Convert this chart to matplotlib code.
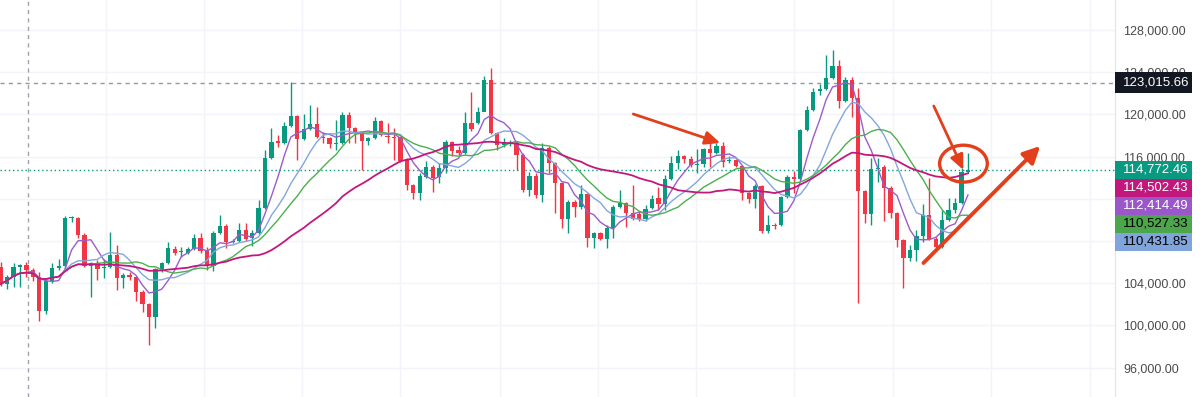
import matplotlib
matplotlib.use('Agg')
import matplotlib.pyplot as plt
import matplotlib.transforms as mtransforms
from matplotlib.patches import Rectangle, Ellipse
import pandas as pd

plt.rcParams['font.family'] = ['Liberation Sans', 'DejaVu Sans']

# daily candles
opens = [
    105532, 103921, 104584, 105532, 105722, 105248, 104584, 101361, 104205, 105438,
    105627, 110178, 110178, 108566, 105627, 105912, 105438, 105532, 106670, 104490,
    104774, 104584, 103162, 102025, 100792, 105343, 105912, 107239, 106954, 106860,
    107239, 108282, 107049, 105627, 108756, 109419, 107902, 107997, 109040, 108282,
    108756, 111126, 115866, 117477, 117288, 118900, 119847, 117667, 118615, 119089,
    117856, 117762, 117193, 117288, 119942, 118710, 118236, 117477, 117762, 119373,
    117951, 117856, 117856, 115771, 113306, 112548, 114064, 115012, 114064, 114918,
    117382, 116624, 116334, 119183, 119183, 120226, 123260, 118236, 117098, 117193,
    117288, 116144, 112832, 114160, 112358, 116814, 115392, 113496, 110083, 111694,
    111221, 112452, 108282, 108756, 108187, 109230, 111221, 111600, 110652, 110557,
    110083, 111126, 112074, 111505, 113875, 115392, 116054, 115771, 115202, 115297,
    116719, 116334, 117003, 115581, 115676, 115107, 112548, 111979, 113211, 108945,
    109514, 109514, 112168, 114064, 113875, 118520, 120416, 122217, 122407, 123450,
    124587, 121269, 123260, 121554, 112737, 110557, 114823, 115012, 113022, 110652,
    108092, 106386, 107144, 108472, 110462, 108187, 107428, 109988, 110936, 111600,
    114539,
]
highs = [
    106006, 104774, 105912, 105817, 106006, 105438, 105058, 104490, 105912, 106291,
    110367, 110367, 110272, 108756, 106006, 106196, 106291, 108850, 107618, 104964,
    105058, 104680, 103352, 102120, 105438, 106006, 107902, 107523, 107428, 107428,
    108661, 108756, 107428, 108945, 110462, 109609, 108187, 109704, 109704, 109040,
    111884, 116624, 118710, 118046, 119278, 123070, 119942, 120037, 120890, 120700,
    118331, 117856, 119468, 120226, 120226, 118805, 118331, 117856, 119752, 119468,
    119183, 118710, 117951, 115866, 113401, 114444, 115581, 115202, 115392, 117572,
    117477, 117003, 120226, 122122, 120700, 123640, 124398, 118331, 117762, 117572,
    117477, 116334, 114539, 114444, 117288, 117003, 115486, 113590, 111884, 111884,
    113306, 112548, 108850, 108850, 109514, 111410, 112832, 111694, 113306, 110747,
    111410, 112358, 113116, 114254, 116054, 116624, 116144, 116054, 116719, 116814,
    117382, 117288, 117382, 116054, 115771, 115202, 112642, 113401, 113306, 110462,
    109704, 112263, 114254, 114633, 118615, 120795, 122502, 122881, 125630, 126104,
    125156, 123544, 123544, 122502, 112832, 115866, 115866, 115202, 113211, 110747,
    108187, 107618, 109040, 111505, 113970, 108377, 110936, 112074, 112074, 114918,
    116334,
]
lows = [
    103731, 103447, 103636, 103636, 104584, 104205, 100413, 101077, 104016, 105248,
    105438, 109798, 108282, 105532, 102688, 104300, 104490, 105438, 103352, 103542,
    104300, 102309, 101266, 98138, 99750, 105058, 105817, 106670, 106480, 106765,
    107144, 106860, 105248, 105153, 108661, 107334, 107808, 107902, 107997, 107523,
    108661, 111031, 115771, 116908, 117193, 118805, 115676, 117572, 118520, 117762,
    117288, 116814, 116624, 117193, 117288, 117288, 114728, 117098, 117667, 117951,
    117288, 115676, 115486, 112832, 111979, 111884, 113970, 112642, 113496, 114444,
    116054, 116144, 116240, 118425, 119089, 120321, 118141, 116624, 116908, 117003,
    114728, 112642, 112263, 112074, 111694, 114444, 110652, 109230, 108756, 110272,
    111031, 107428, 107334, 108092, 107334, 108282, 111126, 109324, 109988, 109893,
    109893, 111031, 110936, 110936, 113780, 114823, 115392, 115012, 114444, 115012,
    115012, 116240, 115012, 115392, 115012, 111884, 111600, 111126, 108756, 108756,
    109135, 109419, 112074, 112548, 113780, 118425, 120321, 121838, 122312, 123355,
    120605, 121174, 119752, 102120, 109704, 109514, 113590, 109893, 110178, 107428,
    103542, 106101, 106101, 107902, 108092, 107334, 107334, 109893, 110652, 111505,
    114444,
]
closes = [
    103921, 104584, 105532, 105722, 105248, 104584, 101361, 104205, 105438, 105627,
    110178, 110272, 108566, 105627, 105912, 105343, 105532, 106670, 104490, 104774,
    104584, 103162, 102025, 100792, 105343, 105912, 107334, 106860, 107049, 107239,
    108282, 107049, 105627, 108756, 109419, 107902, 107997, 109040, 108187, 108756,
    111126, 115866, 117382, 117288, 118900, 119847, 117667, 118615, 119089, 117856,
    117762, 117193, 117288, 119942, 118710, 118236, 117477, 117762, 119373, 118046,
    117856, 117762, 115581, 113306, 112548, 114160, 115012, 113970, 114918, 117382,
    116529, 116334, 119183, 118615, 120226, 123260, 118236, 117098, 117288, 117288,
    116144, 112832, 114160, 112358, 116814, 115392, 113496, 110083, 111694, 111221,
    112452, 108282, 108756, 108187, 109230, 111221, 111600, 110652, 110083, 110083,
    111031, 111979, 111505, 113875, 115392, 116054, 115771, 115202, 115297, 116719,
    116334, 117003, 115486, 115676, 115107, 112548, 111979, 113211, 108945, 109514,
    109419, 112168, 114064, 113875, 118520, 120416, 122122, 122407, 123450, 124587,
    121269, 123260, 121554, 112737, 110557, 114823, 114918, 113022, 110652, 108092,
    106386, 107144, 108472, 110462, 108187, 107428, 109988, 110936, 111600, 114539,
    114772.46,
]

ma_periods = [5, 10, 15, 30]
ma_colors = ['#9c5ccb', '#82a6dd', '#4caf50', '#c2187e']

ref_level = 123015.66
label_texts = ['114,772.46', '114,502.43', '112,414.49', '110,527.33', '110,431.85']
label_colors = ['#089981', '#c2187e', '#9a57c9', '#4ca64c', '#80a4dc']
label_text_colors = ['white', 'white', 'white', 'black', 'black']

UP = '#089981'
DOWN = '#f23645'
ARROW = '#e2401c'

df = pd.DataFrame({'open': opens, 'high': highs, 'low': lows, 'close': closes})
df['x'] = range(len(df))

fig = plt.figure(figsize=(12, 3.97), dpi=100)
ax = fig.add_axes([0, 0, 1115 / 1200, 1])

# candles
up = df['close'] >= df['open']
colors = [UP if u else DOWN for u in up]
ax.vlines(df['x'], df['low'], df['high'], colors=colors, linewidth=1, zorder=3)
body_lo = df[['open', 'close']].min(axis=1)
body_h = (df['close'] - df['open']).abs().clip(lower=110)
ax.bar(df['x'], body_h, bottom=body_lo, width=0.66, color=colors, linewidth=0, zorder=4)

# moving averages
for per, col in zip(ma_periods, ma_colors):
    ma = df['close'].rolling(per, min_periods=1).mean()
    lw = 1.3 if per == 30 else 1.0
    ax.plot(df['x'], ma, color=col, linewidth=lw, zorder=5)

# price lines
ax.axhline(ref_level, color='#9598a1', linewidth=1, linestyle=(0, (3, 3)), zorder=2)
ax.axhline(closes[-1], color=UP, linewidth=1, linestyle=(0, (1, 2)), zorder=2)
ax.axvline(4.2, color='#a0a3ab', linewidth=1, linestyle=(0, (3, 3)), zorder=2)

# grid
for gx in [16.3, 31.5, 46.8, 62.0, 77.4, 92.6, 107.9, 123.1, 138.4, 153.6, 169.0]:
    ax.axvline(gx, color='#f2f4f9', linewidth=1, zorder=0)
yticks = list(range(96000, 128001, 4000))
for gy in yticks:
    ax.axhline(gy, color='#f2f4f9', linewidth=1, zorder=0)

ax.set_xlim(-0.1, 172.8)
ax.set_ylim(93208, 130844)

# 108k and 112k sit fully behind the value tags
hidden = {108000, 112000}
ax.yaxis.tick_right()
ax.set_yticks(yticks)
ax.set_yticklabels(['' if v in hidden else '{:,.2f}'.format(v) for v in yticks])
ax.tick_params(axis='y', length=0, pad=6, labelsize=9, labelcolor='#4a4a4a')
ax.set_xticks([])
for s in ['top', 'left', 'bottom']:
    ax.spines[s].set_visible(False)
ax.spines['right'].set_color('#e0e3eb')

# right-side value tags
trans = mtransforms.blended_transform_factory(ax.transAxes, ax.transData)
box_w = 77 / 1115
box_h = 18 * 94.8
txt_x = 1.0 + 8 / 1115


def tag(y, text, bg, fg, h=box_h):
    ax.add_patch(Rectangle((1.0, y - h / 2), box_w, h, transform=trans,
                           facecolor=bg, edgecolor='none', clip_on=False, zorder=10))
    ax.text(txt_x, y, text, transform=trans, color=fg, fontsize=9.5,
            va='center', ha='left', clip_on=False, zorder=11)


tag(ref_level, '{:,.2f}'.format(ref_level), '#131722', 'white', h=21 * 94.8)
for i, (t, bg, fg) in enumerate(zip(label_texts, label_colors, label_text_colors)):
    tag(closes[-1] - i * box_h, t, bg, fg)

# drawings
ax.annotate('', xy=(111.6, 117288), xytext=(98.1, 120037),
            arrowprops=dict(arrowstyle='-|>,head_length=0.9,head_width=0.4',
                            color=ARROW, lw=2.0, shrinkA=0, shrinkB=0), zorder=8)
ax.annotate('', xy=(149.3, 114728), xytext=(144.7, 120795),
            arrowprops=dict(arrowstyle='-|>,head_length=0.9,head_width=0.4',
                            color=ARROW, lw=2.0, shrinkA=0, shrinkB=0), zorder=8)
ax.annotate('', xy=(161.2, 117003), xytext=(143.1, 105912),
            arrowprops=dict(arrowstyle='-|>,head_length=1.0,head_width=0.5',
                            color=ARROW, lw=2.8, shrinkA=0, shrinkB=0), zorder=8)
ax.add_patch(Ellipse((149.3, 115330), 7.4, 3500, fill=False,
                     edgecolor=ARROW, linewidth=2.4, zorder=8))

fig.savefig('out.png', dpi=100, facecolor='white')
